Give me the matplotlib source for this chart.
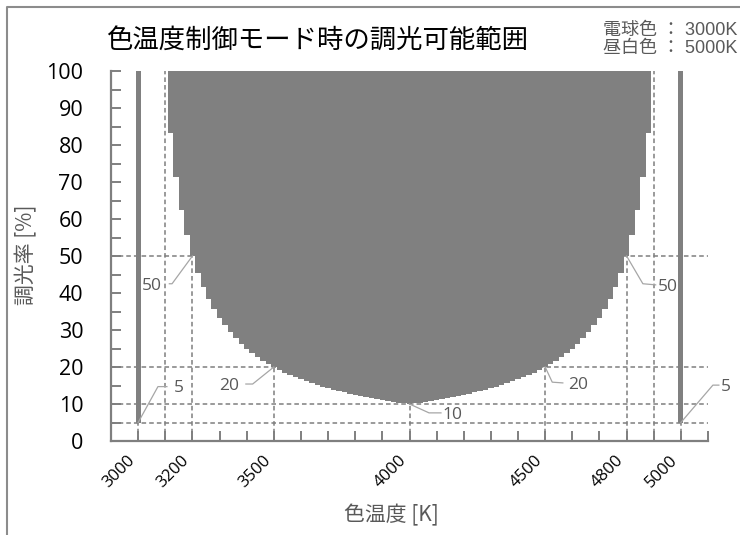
import numpy as np
import matplotlib
matplotlib.use("Agg")
import matplotlib.pyplot as plt
from matplotlib.lines import Line2D

plt.rcParams['font.family'] = ['Open Sans', 'Noto Sans CJK JP', 'DejaVu Sans']

# ---------------------------------------------------------------------------
# Data
# colour temperature steps (K) and the lowest dimming level (%) at each step
temps = [
  3100, 3120, 3140, 3160, 3180, 3200, 3220, 3240, 3260, 3280,
  3300, 3320, 3340, 3360, 3380, 3400, 3420, 3440, 3460, 3480,
  3500, 3520, 3540, 3560, 3580, 3600, 3620, 3640, 3660, 3680,
  3700, 3720, 3740, 3760, 3780, 3800, 3820, 3840, 3860, 3880,
  3900, 3920, 3940, 3960, 3980, 4000, 4020, 4040, 4060, 4080,
  4100, 4120, 4140, 4160, 4180, 4200, 4220, 4240, 4260, 4280,
  4300, 4320, 4340, 4360, 4380, 4400, 4420, 4440, 4460, 4480,
  4500, 4520, 4540, 4560, 4580, 4600, 4620, 4640, 4660, 4680,
  4700, 4720, 4740, 4760, 4780, 4800, 4820, 4840, 4860, 4880,
  4900,
]
min_level = [
  100.0, 83.3, 71.4, 62.5, 55.6, 50.0, 45.5, 41.7, 38.5, 35.7,
  33.3, 31.3, 29.4, 27.8, 26.3, 25.0, 23.8, 22.7, 21.7, 20.8,
  20.0, 19.2, 18.5, 17.9, 17.2, 16.7, 16.1, 15.6, 15.2, 14.7,
  14.3, 13.9, 13.5, 13.2, 12.8, 12.5, 12.2, 11.9, 11.6, 11.4,
  11.1, 10.9, 10.6, 10.4, 10.2, 10.0, 10.2, 10.4, 10.6, 10.9,
  11.1, 11.4, 11.6, 11.9, 12.2, 12.5, 12.8, 13.2, 13.5, 13.9,
  14.3, 14.7, 15.2, 15.6, 16.1, 16.7, 17.2, 17.9, 18.5, 19.2,
  20.0, 20.8, 21.7, 22.7, 23.8, 25.0, 26.3, 27.8, 29.4, 31.3,
  33.3, 35.7, 38.5, 41.7, 45.5, 50.0, 55.6, 62.5, 71.4, 83.3,
  100.0,
]
max_level = 100

# single-colour lamps (電球色 / 昼白色)
lamp_temps = [3000, 5000]
lamp_min = [5, 5]

# reference guide lines
guide_x = [3000, 3100, 3200, 3500, 4000, 4500, 4800, 4900, 5000]
guide_y = [5, 10, 20, 50]

# labelled points
mark_x = [3000, 3200, 3500, 4000, 4500, 4800, 5000]
mark_y = [5, 50, 20, 10, 20, 50, 5]

xtick_labels = [3000, 3200, 3500, 4000, 4500, 4800, 5000]

# ---------------------------------------------------------------------------
gray = '#808080'
txt_gray = '#595959'
line_gray = '#7f7f7f'

fig = plt.figure(figsize=(7.4, 5.35), dpi=100)
ax = fig.add_axes([111 / 740, 94 / 535, 597 / 740, 370 / 535])

# dashed guides (behind)
for gx in guide_x:
  ax.plot([gx, gx], [0, 100], color=line_gray, lw=1.1, ls=(0, (3, 2)), zorder=1)
for gy in guide_y:
  ax.plot([2900, 5100], [gy, gy], color=line_gray, lw=1.1, ls=(0, (3, 2)), zorder=1)

# dimmable range
ax.fill_between(temps, min_level, max_level, step='mid', color=gray,
                linewidth=0, zorder=2)
ax.bar(lamp_temps, [max_level - v for v in lamp_min], bottom=lamp_min,
       width=18, color=gray, linewidth=0, zorder=2)

# data labels with leader lines (offsets in data units)
offsets = [
  ((73, 9.7), (106, 9.7), (3132, 'left')),
  ((-75, -7.5), (-85, -7.5), (3088, 'right')),
  ((-78, -4.6), (-103, -4.6), (3372, 'right')),
  ((72, -2.4), (116, -2.4), (4123, 'left')),
  ((26, -4.1), (65, -4.3), (4584, 'left')),
  ((60, -7.5), (107, -7.8), (4915, 'left')),
  ((118, 10.1), (140, 10.1), (5148, 'left')),
]
for (px, py), (o1, o2, (tx, ha)) in zip(zip(mark_x, mark_y), offsets):
  xs = [px, px + o1[0], px + o2[0]]
  ys = [py, py + o1[1], py + o2[1]]
  ax.plot(xs, ys, color='#a6a6a6', lw=0.9, zorder=3, clip_on=False)
  ax.text(tx, ys[2] - 0.5, str(py), ha=ha, va='center', fontsize=12.5,
          color=txt_gray, zorder=4, clip_on=False)

ax.set_xlim(2900, 5100)
ax.set_ylim(0, 100)

for s in ['top', 'right']:
  ax.spines[s].set_visible(False)
for s in ['left', 'bottom']:
  ax.spines[s].set_color(line_gray)
  ax.spines[s].set_linewidth(1.6)

ax.set_yticks(range(0, 101, 10))
ax.set_yticks(range(5, 100, 10), minor=True)
ax.tick_params(axis='y', which='both', direction='in', length=7, width=1.4,
               color=line_gray, labelsize=15.5, pad=20)

xt = list(range(2900, 5101, 100))
ax.set_xticks(xt)
ax.set_xticklabels([str(v) if v in xtick_labels else '' for v in xt])
ax.tick_params(axis='x', which='both', direction='in', length=7, width=1.4,
               color=line_gray, labelsize=12, pad=16.5)
plt.setp(ax.get_xticklabels(), rotation=45, ha='right', va='bottom',
         rotation_mode='anchor')

cjk = ['Noto Sans CJK JP', 'DejaVu Sans']
fig.text(0.429, 0.925, '色温度制御モード時の調光可能範囲', ha='center', va='center',
         fontsize=19, family=cjk)
fig.text(0.529, 0.037, '色温度 [K]', ha='center', va='center', fontsize=15,
         color=txt_gray, family=cjk)
fig.text(0.035, 0.523, '調光率 [%]', ha='center', va='center', fontsize=15,
         color=txt_gray, rotation=90, family=cjk)
leg = ['Liberation Sans', 'Noto Sans CJK JP', 'DejaVu Sans']
fig.text(603 / 740, 1 - 30 / 535, '電球色 ： 3000K', ha='left', va='center',
         fontsize=13, color=txt_gray, family=leg)
fig.text(603 / 740, 1 - 48 / 535, '昼白色 ： 5000K', ha='left', va='center',
         fontsize=13, color=txt_gray, family=leg)

# chart frame (left and top edges visible)
fig.add_artist(Line2D([7 / 740, 7 / 740, 1.0], [0.0, 1 - 7 / 535, 1 - 7 / 535],
                      transform=fig.transFigure, color='#8c8c8c', lw=1.5))

fig.savefig('out.png', dpi=100)
